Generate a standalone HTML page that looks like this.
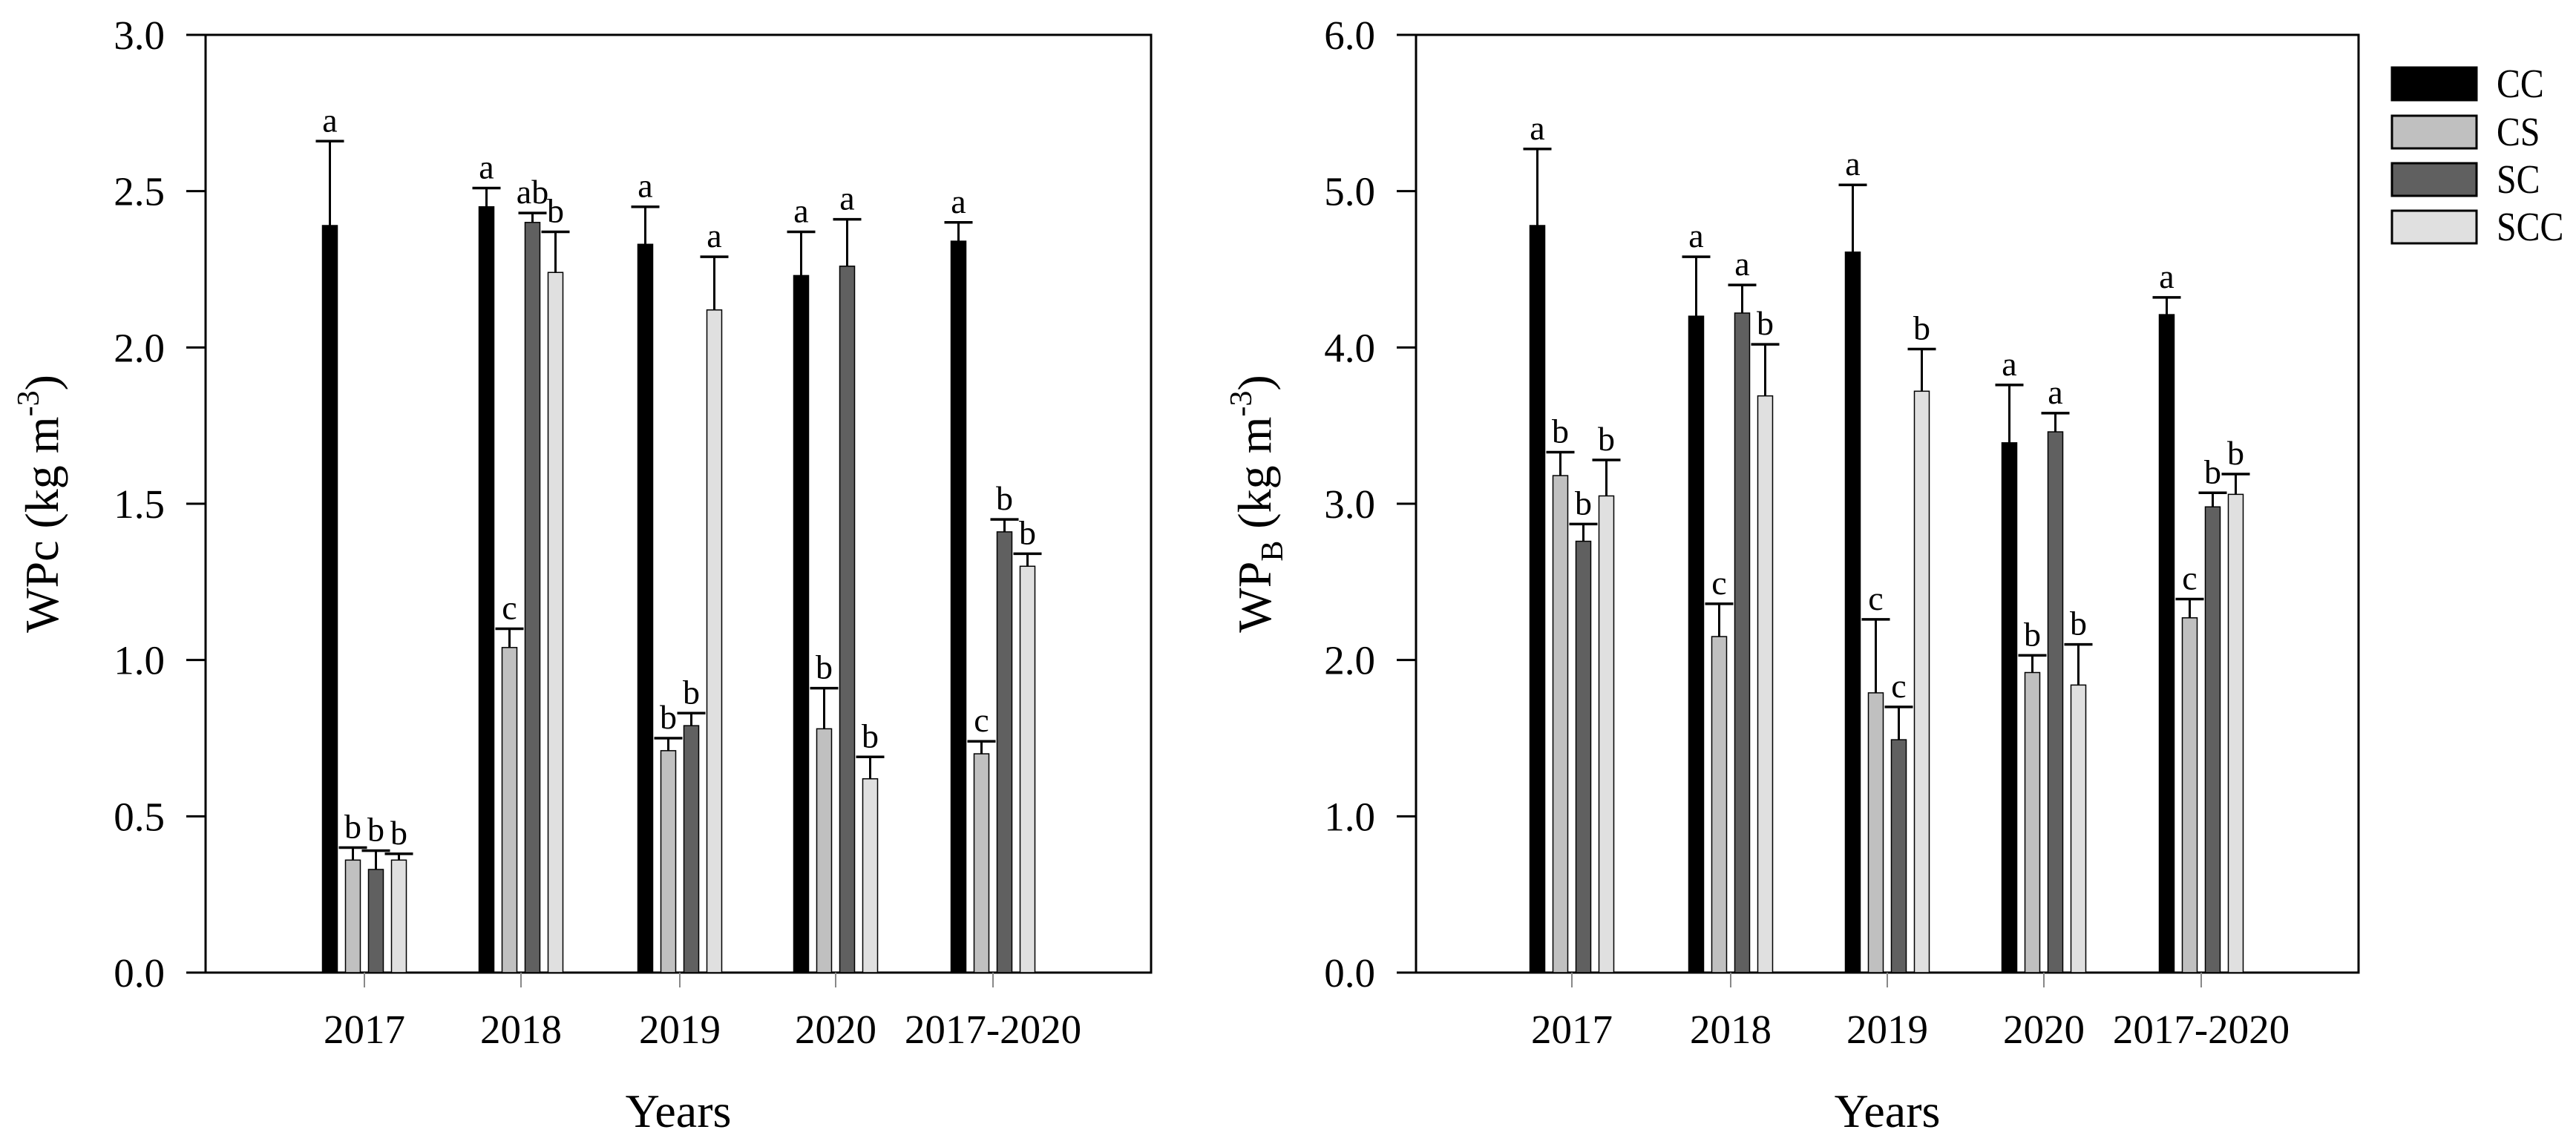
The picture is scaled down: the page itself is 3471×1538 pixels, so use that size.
<!DOCTYPE html>
<html><head><meta charset="utf-8"><style>
html,body{margin:0;padding:0;background:#fff;}
svg{display:block;font-family:"Liberation Serif",serif;}
</style></head><body>
<svg id="fig" width="3471" height="1538" viewBox="0 0 3471 1538" xmlns="http://www.w3.org/2000/svg"></svg>
<script>
const categories = ["2017","2018","2019","2020","2017-2020"];
const seriesNames = ["CC","CS","SC","SCC"];
const seriesColors = ["#000000","#c0c0c0","#606060","#e0e0e0"];
// Left panel: WPc
const wpcCC = [2.39,2.45,2.33,2.23,2.34];
const wpcCS = [0.36,1.04,0.71,0.78,0.70];
const wpcSC = [0.33,2.40,0.79,2.26,1.41];
const wpcSCC = [0.36,2.24,2.12,0.62,1.30];
const wpcErrCC = [0.27,0.06,0.12,0.14,0.06];
const wpcErrCS = [0.04,0.06,0.04,0.13,0.04];
const wpcErrSC = [0.06,0.03,0.04,0.15,0.04];
const wpcErrSCC = [0.02,0.13,0.17,0.07,0.04];
const wpcLetters = [["a","b","b","b"],["a","c","ab","b"],["a","b","b","a"],["a","b","a","b"],["a","c","b","b"]];
const wpcTicks = ["0.0","0.5","1.0","1.5","2.0","2.5","3.0"];
// Right panel: WPB
const wpbCC = [4.78,4.20,4.61,3.39,4.21];
const wpbCS = [3.18,2.15,1.79,1.92,2.27];
const wpbSC = [2.76,4.22,1.49,3.46,2.98];
const wpbSCC = [3.05,3.69,3.72,1.84,3.06];
const wpbErrCC = [0.49,0.38,0.43,0.37,0.11];
const wpbErrCS = [0.15,0.21,0.47,0.11,0.12];
const wpbErrSC = [0.11,0.18,0.21,0.12,0.09];
const wpbErrSCC = [0.23,0.33,0.27,0.26,0.13];
const wpbLetters = [["a","b","b","b"],["a","c","a","b"],["a","c","c","b"],["a","b","a","b"],["a","c","b","b"]];
const wpbTicks = ["0.0","1.0","2.0","3.0","4.0","5.0","6.0"];

const NS="http://www.w3.org/2000/svg";
const svg=document.getElementById('fig');
function mk(tag,attrs,parent){const e=document.createElementNS(NS,tag);for(const k in attrs)e.setAttribute(k,attrs[k]);(parent||svg).appendChild(e);return e;}

function panel(opt){
  const g=mk('g',{});
  
  
  const {x0,x1,y0,y1,ymax,centers}=opt;
  const ys=v=>y1-(v/ymax)*(y1-y0);
  const fr=mk('rect',{x:x0,y:y0,width:x1-x0,height:y1-y0,fill:'none',stroke:'#000','stroke-width':3},g);
  
  
  opt.ticks.forEach((t,i)=>{
    const v=ymax*i/(opt.ticks.length-1);
    const l=mk('line',{x1:x0-26,x2:x0,y1:ys(v),y2:ys(v),stroke:'#000','stroke-width':3},g);
    
    
    const tx=mk('text',{x:x0-55,y:ys(v)+19,'text-anchor':'end','font-size':55},g);
    tx.textContent=t;
    
    
  });
  const offs=[-46.5,-15.5,15.5,46.5], bw=20;
  categories.forEach((c,i)=>{
    const cx=centers[i];
    const tk=mk('line',{x1:cx,x2:cx,y1:y1,y2:y1+20,stroke:'#888','stroke-width':2},g);
    
    
    const lb=mk('text',{x:cx,y:1406,'text-anchor':'middle','font-size':55},g);
    lb.textContent=c;
    
    
    for(let s=0;s<4;s++){
      const v=opt.vals[s][i], e=opt.errs[s][i];
      const bx=cx+offs[s]-bw/2;
      const r=mk('rect',{x:bx,y:ys(v),width:bw,height:y1-ys(v),fill:seriesColors[s],stroke:'#000','stroke-width':1.5},g);
      
      
      const bxc=cx+offs[s];
      const el=mk('line',{x1:bxc,x2:bxc,y1:ys(v),y2:ys(v+e),stroke:'#000','stroke-width':3},g);
      
      
      const cp=mk('line',{x1:bxc-19,x2:bxc+19,y1:ys(v+e),y2:ys(v+e),stroke:'#000','stroke-width':3.5},g);
      
      
      const lt=mk('text',{x:bxc,y:ys(v+e)-13,'text-anchor':'middle','font-size':46},g);
      lt.textContent=opt.letters[i][s];
      
      
    }
  });
  const xt=mk('text',{x:(x0+x1)/2,y:1519,'text-anchor':'middle','font-size':64},g);
  xt.textContent='Years';
  
  
  const yt=mk('text',{x:0,y:0,'text-anchor':'middle','font-size':64,transform:`translate(${opt.ytx},${(y0+y1)/2}) rotate(-90)`},g);
  yt.innerHTML=opt.ytitle;
  
  
}

panel({name:'wpc-panel',x0:277,x1:1551,y0:47,y1:1311,ymax:3,centers:[491,702,916,1126,1338],
  ticks:wpcTicks,vals:[wpcCC,wpcCS,wpcSC,wpcSCC],errs:[wpcErrCC,wpcErrCS,wpcErrSC,wpcErrSCC],letters:wpcLetters,
  ytx:78,ytitle:'WPc  (kg  m<tspan dy="-26" font-size="42">-3</tspan><tspan dy="26">)</tspan>'});
panel({name:'wpb-panel',x0:1908,x1:3178,y0:47,y1:1311,ymax:6,centers:[2118,2332,2543,2754,2966],
  ticks:wpbTicks,vals:[wpbCC,wpbCS,wpbSC,wpbSCC],errs:[wpbErrCC,wpbErrCS,wpbErrSC,wpbErrSCC],letters:wpbLetters,
  ytx:1712,ytitle:'WP<tspan dy="16" font-size="42">B</tspan><tspan dy="-16">  (kg  m</tspan><tspan dy="-26" font-size="42">-3</tspan><tspan dy="26">)</tspan>'});

const lg=mk('g',{});


const ly=[91,156,220,284];
seriesNames.forEach((n,i)=>{
  const r=mk('rect',{x:3223,y:ly[i],width:114,height:44,fill:seriesColors[i],stroke:'#000','stroke-width':3},lg);
  
  
  const t=mk('text',{x:0,y:0,'font-size':55,transform:`translate(3364,${ly[i]+40}) scale(0.87,1)`},lg);
  t.textContent=n;
  
  
});
</script>
</body></html>
